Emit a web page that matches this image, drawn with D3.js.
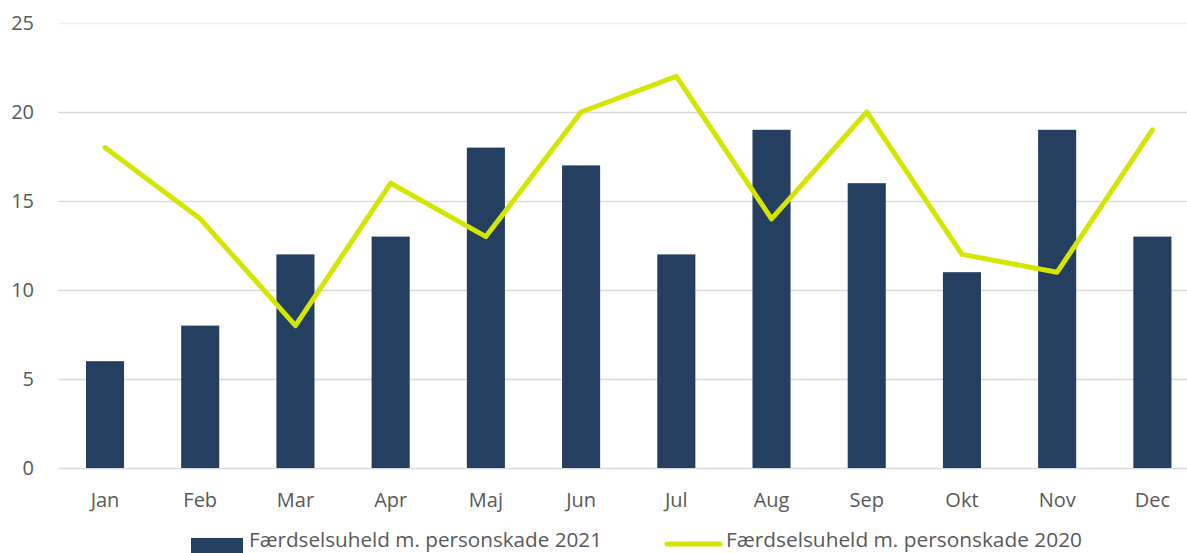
<!DOCTYPE html>
<html>
<head>
<meta charset="utf-8">
<script src="https://cdn.jsdelivr.net/npm/d3@7"></script>
<style>
  body { margin: 0; background: #fff; }
  svg { display: block; }
  text { font-family: "Open Sans", "Noto Sans", sans-serif; fill: #595959; }
</style>
</head>
<body>
<svg width="1187" height="553"></svg>
<script>
  const months = ["Jan", "Feb", "Mar", "Apr", "Maj", "Jun", "Jul", "Aug", "Sep", "Okt", "Nov", "Dec"];
  const values2021 = [6, 8, 12, 13, 18, 17, 12, 19, 16, 11, 19, 13];
  const values2020 = [18, 14, 8, 16, 13, 20, 22, 14, 20, 12, 11, 19];
  const yTicks = [0, 5, 10, 15, 20, 25];
  const seriesNames = ["Færdselsuheld m. personskade 2021", "Færdselsuheld m. personskade 2020"];

  const svg = d3.select("svg");
  const plotLeft = 57.4, plotRight = 1200, plotTop = 23, plotBottom = 468;

  const x = d3.scaleBand().domain(months).range([plotLeft, plotRight]).paddingInner(0.6).paddingOuter(0.3);
  const y = d3.scaleLinear().domain([0, 25]).range([plotBottom, plotTop]);

  // gridlines
  svg.append("g").selectAll("line")
    .data(yTicks)
    .join("line")
    .attr("x1", 58).attr("x2", 1187)
    .attr("y1", d => Math.round(y(d)) + 0.5).attr("y2", d => Math.round(y(d)) + 0.5)
    .attr("stroke", d => d === 25 ? "#f0f0f0" : "#d9d9d9")
    .attr("stroke-width", 1.5);

  // y labels
  svg.append("g").selectAll("text")
    .data(yTicks)
    .join("text")
    .attr("x", 34).attr("y", d => y(d))
    .attr("dy", "0.35em")
    .attr("text-anchor", "end")
    .attr("font-size", 20)
    .text(d => d);

  // bars
  svg.append("g").selectAll("rect")
    .data(values2021)
    .join("rect")
    .attr("x", (d, i) => x(months[i]))
    .attr("width", x.bandwidth())
    .attr("y", d => y(d))
    .attr("height", d => y(0) - y(d))
    .attr("fill", "#243f5f");

  // line
  const line = d3.line()
    .x((d, i) => x(months[i]) + x.bandwidth() / 2)
    .y(d => y(d));
  svg.append("path")
    .datum(values2020)
    .attr("d", line)
    .attr("fill", "none")
    .attr("stroke", "#d4e600")
    .attr("stroke-width", 5)
    .attr("stroke-linejoin", "round")
    .attr("stroke-linecap", "round");

  // x labels
  svg.append("g").selectAll("text")
    .data(months)
    .join("text")
    .attr("x", d => x(d) + x.bandwidth() / 2)
    .attr("y", 500)
    .attr("dy", "0.35em")
    .attr("text-anchor", "middle")
    .attr("font-size", 20)
    .text(d => d);

  // legend (sits at the very bottom edge, as in the source)
  const legend = svg.append("g");
  legend.append("rect")
    .attr("x", 191).attr("y", 538).attr("width", 52).attr("height", 20)
    .attr("fill", "#243f5f");
  legend.append("text")
    .attr("x", 249).attr("y", 547)
    .attr("font-size", 20)
    .attr("textLength", 353)
    .attr("lengthAdjust", "spacingAndGlyphs")
    .text(seriesNames[0]);
  legend.append("line")
    .attr("x1", 667).attr("x2", 720).attr("y1", 544).attr("y2", 544)
    .attr("stroke", "#d4e600").attr("stroke-width", 5)
    .attr("stroke-linecap", "round");
  legend.append("text")
    .attr("x", 726).attr("y", 547)
    .attr("font-size", 20)
    .attr("textLength", 356)
    .attr("lengthAdjust", "spacingAndGlyphs")
    .text(seriesNames[1]);
</script>
</body>
</html>
